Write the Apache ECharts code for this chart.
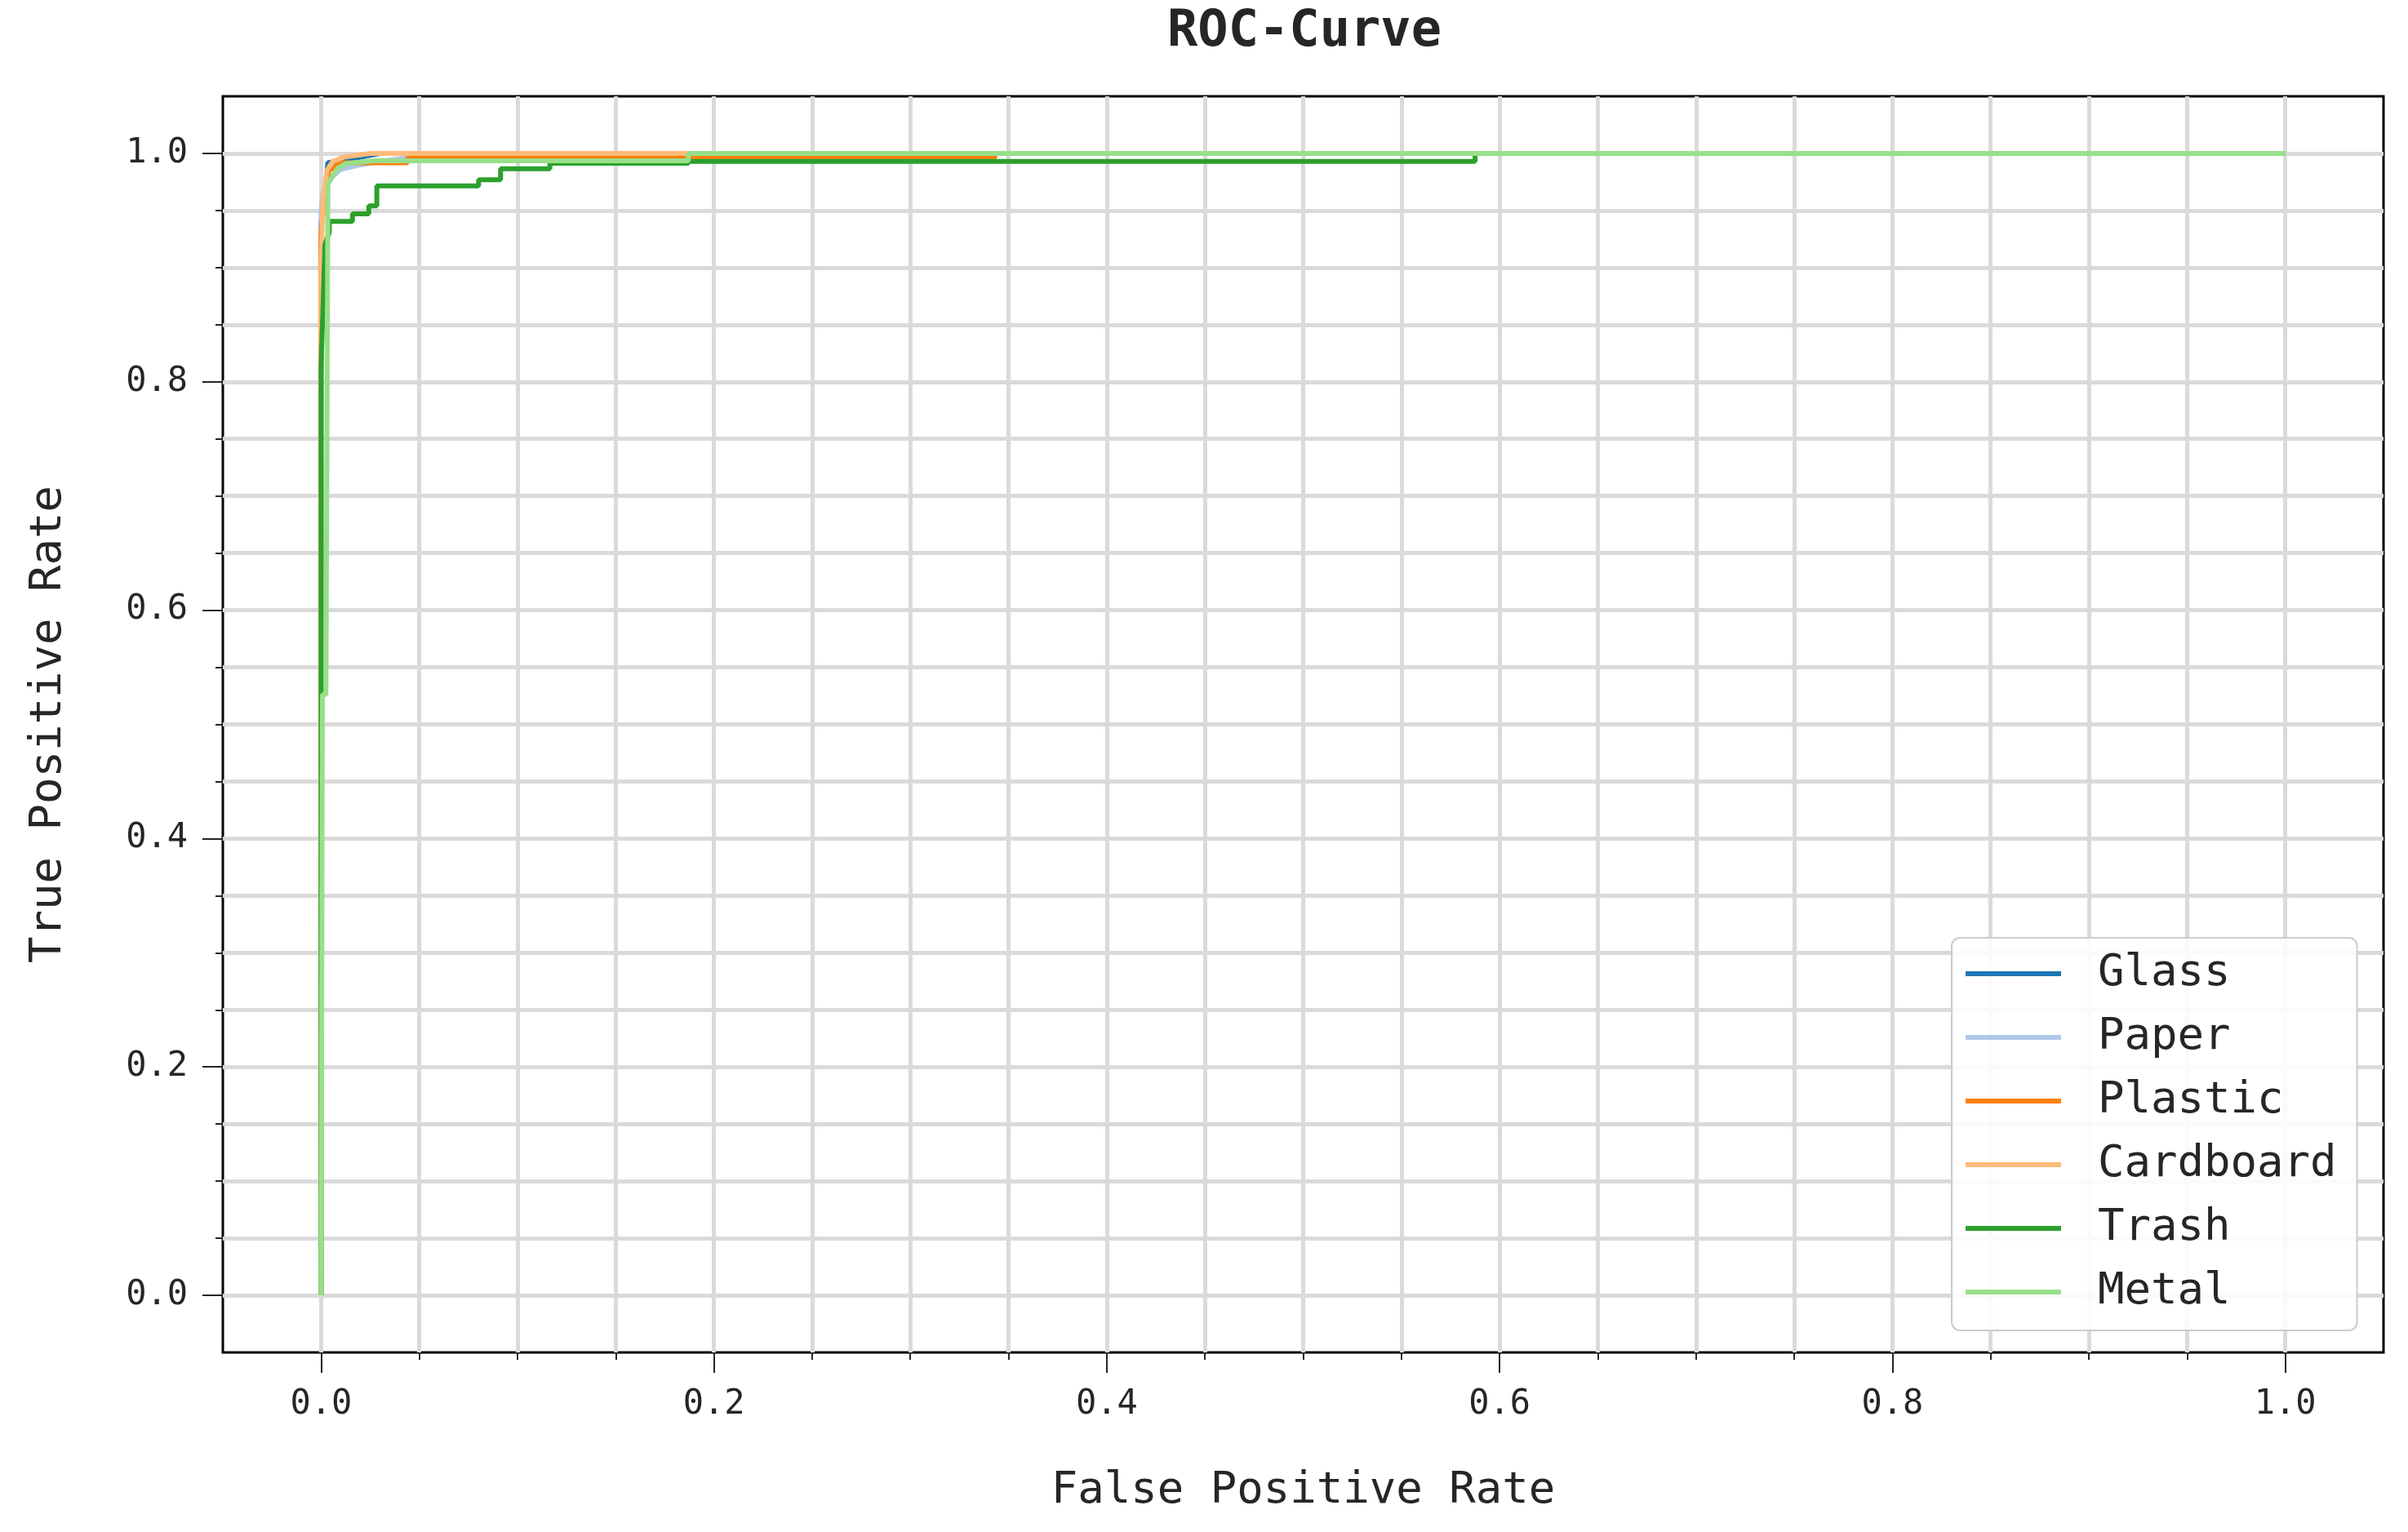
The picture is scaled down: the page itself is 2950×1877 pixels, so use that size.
<!DOCTYPE html>
<html>
<head>
<meta charset="utf-8">
<script src="https://cdn.jsdelivr.net/npm/echarts@6/dist/echarts.min.js"></script>
<style>
html, body { margin: 0; padding: 0; background: #ffffff; }
#chart { width: 2950px; height: 1877px; }
</style>
</head>
<body>
<div id="chart"></div>
<script>
// ---- data ----
const seriesNames = ['Glass', 'Paper', 'Plastic', 'Cardboard', 'Trash', 'Metal'];
const seriesColors = ['#1f77b4', '#aec7e8', '#ff7f0e', '#ffbb78', '#2ca02c', '#98df8a'];

const glassFpr = [0, 0, 0.0025, 0.0035, 0.012, 0.03, 1.0];
const glassTpr = [0, 0.94, 0.975, 0.992, 0.994, 1.0, 1.0];

const paperFpr = [0, 0, 0.001, 0.003, 0.006, 0.01, 0.02, 0.03, 0.06, 1.0];
const paperTpr = [0, 0.95, 0.965, 0.972, 0.98, 0.986, 0.99, 0.993, 1.0, 1.0];

const plasticFpr = [0, 0, 0.002, 0.004, 0.01, 0.044, 0.044, 0.343, 0.343, 1.0];
const plasticTpr = [0, 0.93, 0.965, 0.985, 0.9917, 0.9917, 0.996, 0.996, 1.0, 1.0];

const cardboardFpr = [0, 0, 0.001, 0.003, 0.006, 0.012, 0.025, 1.0];
const cardboardTpr = [0, 0.9, 0.96, 0.985, 0.993, 0.997, 1.0, 1.0];

const trashFpr = [0, 0, 0.002, 0.0042, 0.0042, 0.016, 0.016, 0.0243, 0.0243, 0.0284, 0.0284, 0.0802, 0.0802, 0.0914, 0.0914, 0.1165, 0.1165, 0.187, 0.187, 0.5875, 0.5875, 1.0];
const trashTpr = [0, 0.812, 0.92, 0.931, 0.9405, 0.9405, 0.947, 0.947, 0.954, 0.954, 0.9715, 0.9715, 0.977, 0.977, 0.9865, 0.9865, 0.9914, 0.9914, 0.993, 0.993, 1.0, 1.0];

const metalFpr = [0, 0.0007, 0.0025, 0.0035, 0.0085, 0.0125, 0.027, 0.187, 0.187, 1.0];
const metalTpr = [0, 0.526, 0.526, 0.974, 0.987, 0.991, 0.9936, 0.9936, 1.0, 1.0];

const xTickValues = [0, 0.2, 0.4, 0.6, 0.8, 1.0];
const xTickLabels = ['0.0', '0.2', '0.4', '0.6', '0.8', '1.0'];
const yTickValues = [0, 0.2, 0.4, 0.6, 0.8, 1.0];
const yTickLabels = ['0.0', '0.2', '0.4', '0.6', '0.8', '1.0'];

const axisMin = -0.05;
const axisMax = 1.05;
const minorStep = 0.05;

// ---- helpers ----
const fprs = [glassFpr, paperFpr, plasticFpr, cardboardFpr, trashFpr, metalFpr];
const tprs = [glassTpr, paperTpr, plasticTpr, cardboardTpr, trashTpr, metalTpr];

function zip(a, b) { return a.map((v, i) => [v, b[i]]); }

// slots for the tick/grid category axes (one per minor step)
const nSlots = Math.round((axisMax - axisMin) / minorStep) + 1;
const slots = [];
for (let i = 0; i < nSlots; i++) slots.push((axisMin + i * minorStep).toFixed(2));

function labelFor(v, vals, labels) {
  const f = parseFloat(v);
  for (let i = 0; i < vals.length; i++) if (Math.abs(vals[i] - f) < 1e-6) return labels[i];
  return '';
}
function isMajor(v, vals) { return labelFor(v, vals, vals.map(String)) !== ''; }

const FONT = '"DejaVu Sans Mono", "Liberation Mono", monospace';
const TXT = '#262626';

const chart = echarts.init(document.getElementById('chart'), null, { renderer: 'canvas' });

const grid = { left: 273, right: 30, top: 118, bottom: 220, show: true, borderColor: '#000000', borderWidth: 3, backgroundColor: 'transparent', containLabel: false };

function minorAxis(isX, vals) {
  return {
    type: 'category', data: slots, boundaryGap: false,
    position: isX ? 'bottom' : 'left',
    axisLine: { show: false },
    axisTick: { show: true, length: 9, lineStyle: { color: TXT, width: 2 },
      interval: (idx, v) => idx > 0 && idx < nSlots - 1 && !isMajor(v, vals) },
    axisLabel: { show: false },
    splitLine: { show: true, lineStyle: { color: '#dadada', width: 5 },
      interval: (idx) => idx > 0 && idx < nSlots - 1 },
    z: 1
  };
}
function majorAxis(isX, vals, labels, name, nameGap) {
  return {
    type: 'category', data: slots, boundaryGap: false,
    position: isX ? 'bottom' : 'left',
    axisLine: { show: false },
    axisTick: { show: true, length: 25, lineStyle: { color: TXT, width: 2 },
      interval: (idx, v) => isMajor(v, vals) },
    axisLabel: { show: true, interval: (idx, v) => isMajor(v, vals),
      formatter: (v) => labelFor(v, vals, labels),
      margin: isX ? 43 : 43, fontFamily: FONT, fontSize: 42, color: TXT },
    splitLine: { show: false },
    name: name, nameLocation: 'middle', nameGap: nameGap,
    nameRotate: isX ? 0 : 90,
    nameTextStyle: { fontFamily: FONT, fontSize: 54, color: TXT },
    z: 2
  };
}

const option = {
  animation: false,
  backgroundColor: '#ffffff',
  title: {
    text: 'ROC-Curve', left: 1598, top: 9, textAlign: 'center', padding: 0,
    textStyle: { fontFamily: FONT, fontSize: 62, fontWeight: 'bold', color: TXT }
  },
  grid: grid,
  legend: {
    orient: 'vertical', left: 2391, top: 1149,
    data: seriesNames,
    icon: 'rect', itemWidth: 117, itemHeight: 6, itemGap: 18,
    padding: [14, 25, 17, 17],
    backgroundColor: 'rgba(255,255,255,0.85)',
    borderColor: '#cccccc', borderWidth: 2, borderRadius: 10,
    textStyle: { fontFamily: FONT, fontSize: 54, color: TXT, lineHeight: 60, padding: [0, 0, 0, 40] }
  },
  xAxis: [
    { type: 'value', min: axisMin, max: axisMax, show: false, splitLine: { show: false } },
    minorAxis(true, xTickValues),
    majorAxis(true, xTickValues, xTickLabels, 'False Positive Rate', 143)
  ],
  yAxis: [
    { type: 'value', min: axisMin, max: axisMax, show: false, splitLine: { show: false } },
    minorAxis(false, yTickValues),
    majorAxis(false, yTickValues, yTickLabels, 'True Positive Rate', 186)
  ],
  series: seriesNames.map((n, i) => ({
    name: n, type: 'line', xAxisIndex: 0, yAxisIndex: 0,
    data: zip(fprs[i], tprs[i]),
    showSymbol: false, symbol: 'none',
    color: seriesColors[i],
    lineStyle: { color: seriesColors[i], width: 6 },
    z: 3 + i * 0.01,
    emphasis: { disabled: true }
  }))
};
chart.setOption(option);
</script>
</body>
</html>
